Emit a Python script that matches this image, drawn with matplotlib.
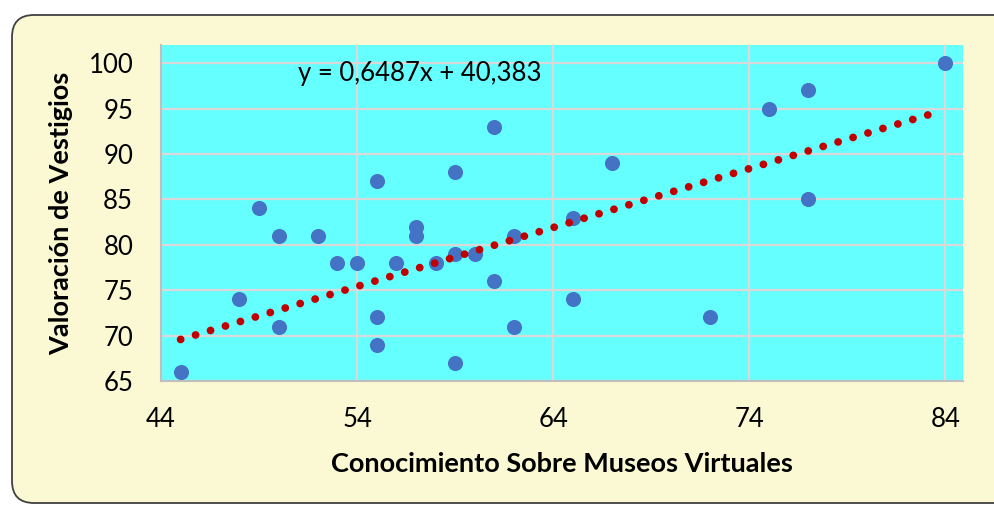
import matplotlib.pyplot as plt
import numpy as np
from matplotlib.patches import FancyBboxPatch

# data
conocimiento = [45, 48, 49, 50, 50, 52, 53, 54, 55, 55, 55, 56, 57, 57, 58, 59,
                59, 59, 60, 61, 61, 62, 62, 65, 65, 67, 72, 75, 77, 77, 84]
valoracion = [66, 74, 84, 81, 71, 81, 78, 78, 87, 72, 69, 78, 82, 81, 78, 88,
              79, 67, 79, 93, 76, 81, 71, 83, 74, 89, 72, 95, 97, 85, 100]
slope, intercept = 0.6487, 40.383
trend_range = [45, 83.3]
x_ticks = [44, 54, 64, 74, 84]
y_ticks = [65, 70, 75, 80, 85, 90, 95, 100]

W, H = 995, 505
plt.rcParams['font.family'] = ['Lato', 'DejaVu Sans']

fig = plt.figure(figsize=(W / 100, H / 100), dpi=100)
fig.patch.set_facecolor('white')

# rounded chart frame on a background axes
bg = fig.add_axes([0, 0, 1, 1], zorder=-1)
bg.set_xlim(0, W)
bg.set_ylim(H, 0)
bg.axis('off')
bg.add_patch(FancyBboxPatch((12, 15), 1020, 488,
                            boxstyle='round,pad=0,rounding_size=22',
                            facecolor='#FAF9D3', edgecolor='#404040',
                            linewidth=1.3))

ax = fig.add_axes([161 / W, 1 - 381 / H, 802 / W, 336 / H])
ax.set_facecolor('#66FFFF')
ax.set_xlim(44, 84.9)
ax.set_ylim(65, 102)

ax.set_xticks(x_ticks)
ax.set_yticks(y_ticks)
ax.grid(True, color='#D9D9D9', linewidth=1.6)
ax.set_axisbelow(True)
ax.tick_params(length=0, labelsize=18.5, colors='black')
ax.tick_params(axis='x', pad=19)
ax.tick_params(axis='y', pad=20)
for s in ['top', 'right']:
    ax.spines[s].set_visible(False)
for s in ['left', 'bottom']:
    ax.spines[s].set_color('#BFBFBF')
    ax.spines[s].set_linewidth(1.5)

ax.scatter(conocimiento, valoracion, s=118, color='#4472C4', zorder=3, linewidths=0)

tx = np.array(trend_range)
ax.plot(tx, slope * tx + intercept, color='#C00000', linewidth=5.6,
        linestyle=(0, (0.01, 1.996)), dash_capstyle='round', zorder=4)

fig.text(298 / W, 1 - 73 / H, 'y = 0,6487x + 40,383', fontsize=18.5,
         va='center', ha='left')

ax.set_xlabel('Conocimiento Sobre Museos Virtuales', fontsize=19.5,
              fontweight='bold', labelpad=14)
ax.set_ylabel('Valoración de Vestigios', fontsize=19.5, fontweight='bold',
              labelpad=11)

fig.savefig('out.png', dpi=100)
